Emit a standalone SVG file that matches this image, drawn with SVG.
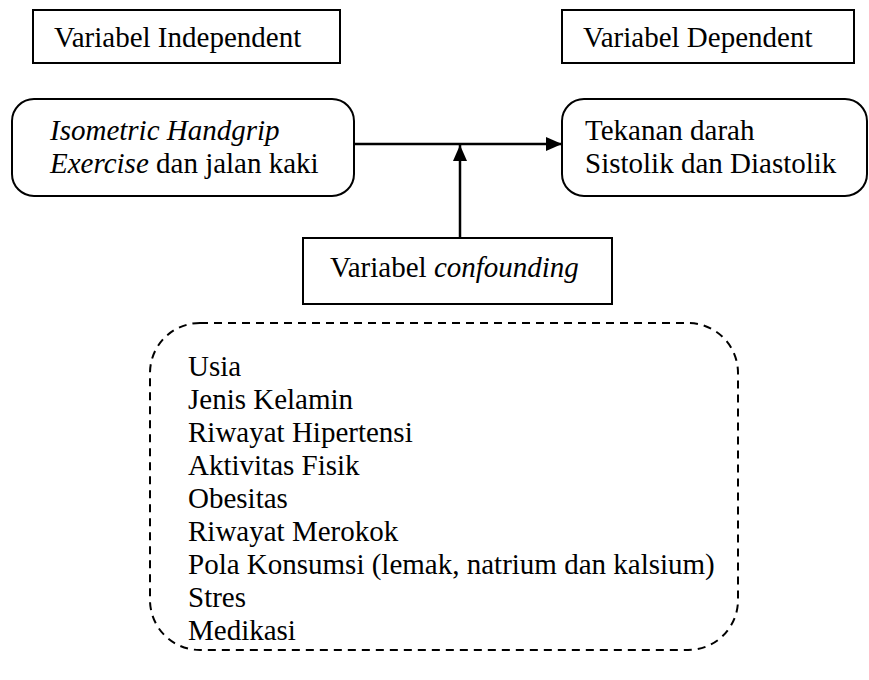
<svg xmlns="http://www.w3.org/2000/svg" width="869" height="680" viewBox="0 0 869 680">
<style>
.t{font-family:"Liberation Serif","Tinos","Times New Roman","DejaVu Serif",serif;font-size:29px;fill:#000}
.i{font-style:italic}
.box{fill:#fff;stroke:#000;stroke-width:2}
.dash{fill:none;stroke:#000;stroke-width:2;stroke-dasharray:8,6}
.ln{fill:none;stroke:#000;stroke-width:2.5}
</style>
<defs>
<marker id="ah" viewBox="0 0 16 14" refX="16" refY="7" markerWidth="16" markerHeight="14" markerUnits="userSpaceOnUse" orient="auto">
<path d="M0,0 L16,7 L0,14 Z" fill="#000"/>
</marker>
</defs>
<rect width="869" height="680" fill="#fff"/>
<g id="label-independent">
<rect class="box" x="33" y="10" width="307" height="53"/>
<text class="t" x="54" y="47">Variabel Independent</text>
</g>
<g id="label-dependent">
<rect class="box" x="562" y="10" width="292" height="53"/>
<text class="t" x="583" y="47">Variabel Dependent</text>
</g>
<g id="node-independent">
<rect class="box" x="12" y="99" width="342" height="97" rx="22" ry="22"/>
<text class="t" x="50" y="140"><tspan class="i">Isometric Handgrip</tspan></text>
<text class="t" x="50" y="173"><tspan class="i">Exercise</tspan> dan jalan kaki</text>
</g>
<g id="node-dependent">
<rect class="box" x="562" y="99" width="305" height="97" rx="22" ry="22"/>
<text class="t" x="585" y="140">Tekanan darah</text>
<text class="t" x="585" y="173">Sistolik dan Diastolik</text>
</g>
<g id="node-confounding">
<rect class="box" x="303" y="238" width="309" height="66"/>
<text class="t" x="330" y="277">Variabel <tspan class="i">confounding</tspan></text>
</g>
<g id="node-list">
<rect class="dash" x="150" y="323" width="588" height="327" rx="50" ry="50"/>
<text class="t" x="188" y="376">Usia</text>
<text class="t" x="188" y="409">Jenis Kelamin</text>
<text class="t" x="188" y="442">Riwayat Hipertensi</text>
<text class="t" x="188" y="475">Aktivitas Fisik</text>
<text class="t" x="188" y="508">Obesitas</text>
<text class="t" x="188" y="541">Riwayat Merokok</text>
<text class="t" x="188" y="574">Pola Konsumsi (lemak, natrium dan kalsium)</text>
<text class="t" x="188" y="607">Stres</text>
<text class="t" x="188" y="640">Medikasi</text>
</g>
<g id="connectors">
<line class="ln" x1="354" y1="144" x2="562" y2="144" marker-end="url(#ah)"/>
<line class="ln" x1="460" y1="238" x2="460" y2="145" marker-end="url(#ah)"/>
</g>
</svg>
